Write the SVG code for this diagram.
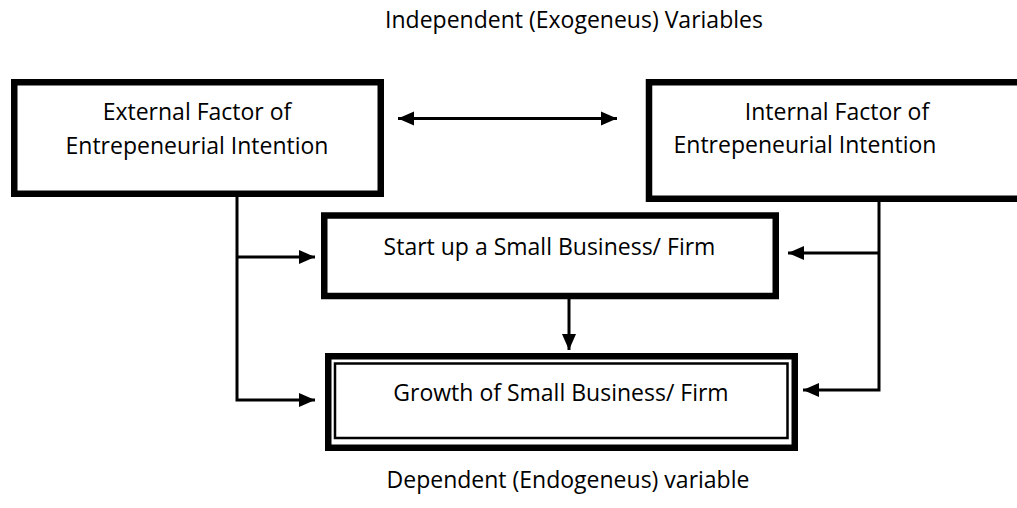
<svg xmlns="http://www.w3.org/2000/svg" width="1017" height="508" viewBox="0 0 1017 508">
  <defs>
    <style>
      .box { fill: #ffffff; stroke: #000000; stroke-width: 6.5; }
      .thin { fill: none; stroke: #000000; stroke-width: 2.5; }
      .lbl { font-family: "Open Sans", "Liberation Sans", sans-serif; font-size: 23px; fill: #000000; text-anchor: middle; }
      .wire { fill: none; stroke: #000000; stroke-width: 3; }
    </style>
    <marker id="head" markerUnits="userSpaceOnUse" markerWidth="16" markerHeight="16" viewBox="0 0 16 16" refX="16" refY="8" orient="auto-start-reverse">
      <polygon points="0,1 16,8 0,15" fill="#000000"/>
    </marker>
  </defs>

  <rect width="1017" height="508" fill="#ffffff"/>

  <text class="lbl" x="574" y="28">Independent (Exogeneus) Variables</text>
  <text class="lbl" x="568" y="488">Dependent (Endogeneus) variable</text>

  <g id="connectors">
    <!-- two-way link between the factor boxes -->
    <line class="wire" x1="398" y1="118.5" x2="617" y2="118.5" marker-start="url(#head)" marker-end="url(#head)"/>
    <!-- external factor feeds -->
    <polyline class="wire" points="237,197 237,400 315,400" marker-end="url(#head)"/>
    <line class="wire" x1="237" y1="257" x2="315" y2="257" marker-end="url(#head)"/>
    <!-- internal factor feeds -->
    <polyline class="wire" points="879,202 879,390 803,390" marker-end="url(#head)"/>
    <line class="wire" x1="879" y1="253" x2="788" y2="253" marker-end="url(#head)"/>
    <!-- start-up leads to growth -->
    <line class="wire" x1="569" y1="299" x2="569" y2="350" marker-end="url(#head)"/>
  </g>

  <g id="external">
    <rect class="box" x="14.25" y="82.25" width="366.5" height="111.5"/>
    <text class="lbl" x="197" y="120">External Factor of</text>
    <text class="lbl" x="197" y="154">Entrepeneurial Intention</text>
  </g>

  <g id="internal">
    <rect class="box" x="649" y="82.25" width="420" height="116.5"/>
    <text class="lbl" x="837" y="120">Internal Factor of</text>
    <text class="lbl" x="805" y="153">Entrepeneurial Intention</text>
  </g>

  <g id="startup">
    <rect class="box" x="324.25" y="215.5" width="451.5" height="80.5"/>
    <text class="lbl" x="549.5" y="255">Start up a Small Business/ Firm</text>
  </g>

  <g id="growth">
    <rect class="box" x="328.25" y="356.25" width="466.5" height="91.5"/>
    <rect class="thin" x="335" y="363.5" width="452.5" height="74.5"/>
    <text class="lbl" x="561" y="401">Growth of Small Business/ Firm</text>
  </g>
</svg>
